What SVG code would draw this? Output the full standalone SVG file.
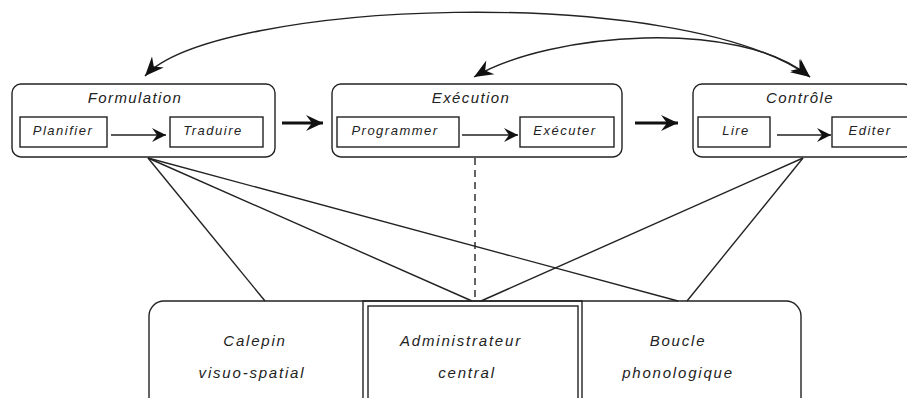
<svg xmlns="http://www.w3.org/2000/svg" width="907" height="398" viewBox="0 0 907 398">
<defs>
<style>
.box{fill:none;stroke:#222;stroke-width:1.4}
.ln{fill:none;stroke:#222;stroke-width:1.4}
.thick{fill:none;stroke:#111;stroke-width:3}
.t{font-family:"Liberation Sans",Arial,sans-serif;font-style:italic;fill:#222;text-anchor:middle}
.h{font-size:15px;letter-spacing:1.4px}
.s{font-size:13px;letter-spacing:1.5px}
.b{font-size:15px;letter-spacing:1.8px}
</style>
<marker id="thin" markerUnits="userSpaceOnUse" viewBox="-15 -8 16 16" markerWidth="16" markerHeight="16" refX="0" refY="0" orient="auto">
<path d="M0,0 L-14,-7 L-9,0 L-14,7 Z" fill="#111"/>
</marker>
<marker id="big" markerUnits="userSpaceOnUse" viewBox="-18 -9 19 18" markerWidth="19" markerHeight="18" refX="0" refY="0" orient="auto">
<path d="M0,0 L-17,-8 L-11,0 L-17,8 Z" fill="#111"/>
</marker>
<marker id="arc" markerUnits="userSpaceOnUse" viewBox="-20 -10 21 20" markerWidth="21" markerHeight="20" refX="0" refY="0" orient="auto-start-reverse">
<path d="M0,0 L-19,-8 L-13,0 L-19,8 Z" fill="#111"/>
</marker>
</defs>

<g id="formulation">
<rect class="box" x="12" y="84" width="263" height="73" rx="9"/>
<text class="t h" x="135" y="103">Formulation</text>
<rect class="box" x="20" y="117" width="87" height="30"/>
<text class="t s" x="63" y="135">Planifier</text>
<rect class="box" x="170" y="117" width="93" height="30"/>
<text class="t s" x="213" y="135">Traduire</text>
</g>

<g id="execution">
<rect class="box" x="332" y="84" width="290" height="73" rx="9"/>
<text class="t h" x="471" y="103">Exécution</text>
<rect class="box" x="337" y="117" width="122" height="30"/>
<text class="t s" x="395" y="135">Programmer</text>
<rect class="box" x="520" y="117" width="94" height="30"/>
<text class="t s" x="565" y="135">Exécuter</text>
</g>

<g id="controle">
<rect class="box" x="693" y="84" width="220" height="73" rx="9"/>
<text class="t h" x="800" y="103">Contrôle</text>
<rect class="box" x="698" y="117" width="72" height="30"/>
<text class="t s" x="736" y="135">Lire</text>
<rect class="box" x="832" y="117" width="85" height="30"/>
<text class="t s" x="870" y="135">Editer</text>
</g>

<g id="memoire">
<rect class="box" x="149" y="301" width="652" height="112" rx="15"/>
</g>
<g id="calepin">
<text class="t b" x="255" y="346">Calepin</text>
<text class="t b" x="252" y="378">visuo-spatial</text>
</g>
<g id="administrateur">
<rect class="box" x="363" y="301" width="219" height="112"/>
<rect class="box" x="368" y="306" width="210" height="112"/>
<text class="t b" x="461" y="346">Administrateur</text>
<text class="t b" x="467" y="378">central</text>
</g>
<g id="boucle">
<text class="t b" x="678" y="346">Boucle</text>
<text class="t b" x="678" y="378">phonologique</text>
</g>

<g id="connectors">
<line class="ln" x1="111" y1="135" x2="166" y2="135" marker-end="url(#thin)"/>
<line class="ln" x1="462" y1="135" x2="518" y2="135" marker-end="url(#thin)"/>
<line class="ln" x1="777" y1="135" x2="831" y2="135" marker-end="url(#thin)"/>
<line class="thick" x1="282" y1="123" x2="323" y2="123" marker-end="url(#big)"/>
<line class="thick" x1="635" y1="123" x2="678" y2="123" marker-end="url(#big)"/>
<path class="ln" d="M145,76 C215,0 680,-18 810,77" marker-start="url(#arc)" marker-end="url(#arc)"/>
<path class="ln" d="M474,77 C550,32 740,18 810,77" marker-start="url(#arc)" marker-end="url(#arc)"/>
<line class="ln" x1="148" y1="158" x2="265" y2="301"/>
<line class="ln" x1="148" y1="158" x2="472" y2="301"/>
<line class="ln" x1="148" y1="158" x2="678" y2="301"/>
<line class="ln" x1="803" y1="158" x2="481" y2="301"/>
<line class="ln" x1="803" y1="158" x2="687" y2="301"/>
<line class="ln" x1="475" y1="158" x2="475" y2="301" stroke-dasharray="7,5"/>
</g>
</svg>
